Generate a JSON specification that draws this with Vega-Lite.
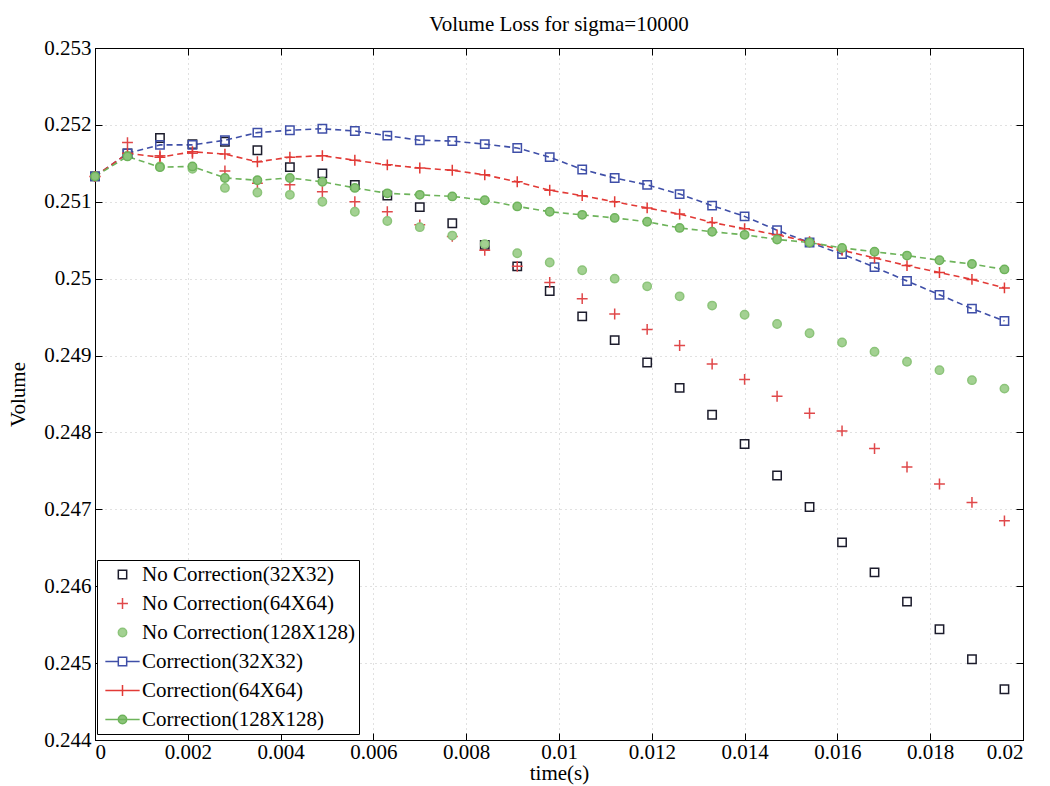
{
"$schema": "https://vega.github.io/schema/vega-lite/v6.json",
"width": 928,
"height": 692,
"autosize": {"type": "none"},
"padding": {"left": 95, "top": 48, "right": 27, "bottom": 46},
"background": "white",
"title": {"text": "Volume Loss for sigma=10000", "font": "Liberation Serif", "fontSize": 21, "fontWeight": "normal", "color": "black", "offset": 2},
"config": {
  "view": {"stroke": "black", "strokeWidth": 1},
  "axis": {"labelFont": "Liberation Serif", "labelFontSize": 21, "labelColor": "black", "titleFont": "Liberation Serif", "titleFontSize": 21, "titleFontWeight": "normal", "titleColor": "black", "domainColor": "black", "tickColor": "black", "tickWidth": 1}
},
"data": {"values": [
{"s":"No Correction(32X32)","t":0,"v":0.25133},{"s":"No Correction(32X32)","t":0.0007,"v":0.25163},{"s":"No Correction(32X32)","t":0.0014,"v":0.25183},{"s":"No Correction(32X32)","t":0.0021,"v":0.25175},{"s":"No Correction(32X32)","t":0.0028,"v":0.25178},{"s":"No Correction(32X32)","t":0.0035,"v":0.25167},{"s":"No Correction(32X32)","t":0.0042,"v":0.25145},{"s":"No Correction(32X32)","t":0.0049,"v":0.25137},{"s":"No Correction(32X32)","t":0.0056,"v":0.25122},{"s":"No Correction(32X32)","t":0.0063,"v":0.25108},{"s":"No Correction(32X32)","t":0.007,"v":0.25093},{"s":"No Correction(32X32)","t":0.0077,"v":0.25072},{"s":"No Correction(32X32)","t":0.0084,"v":0.25044},{"s":"No Correction(32X32)","t":0.0091,"v":0.25016},{"s":"No Correction(32X32)","t":0.0098,"v":0.24984},{"s":"No Correction(32X32)","t":0.0105,"v":0.24951},{"s":"No Correction(32X32)","t":0.0112,"v":0.2492},{"s":"No Correction(32X32)","t":0.0119,"v":0.24891},{"s":"No Correction(32X32)","t":0.0126,"v":0.24858},{"s":"No Correction(32X32)","t":0.0133,"v":0.24823},{"s":"No Correction(32X32)","t":0.014,"v":0.24785},{"s":"No Correction(32X32)","t":0.0147,"v":0.24744},{"s":"No Correction(32X32)","t":0.0154,"v":0.24703},{"s":"No Correction(32X32)","t":0.0161,"v":0.24657},{"s":"No Correction(32X32)","t":0.0168,"v":0.24618},{"s":"No Correction(32X32)","t":0.0175,"v":0.2458},{"s":"No Correction(32X32)","t":0.0182,"v":0.24544},{"s":"No Correction(32X32)","t":0.0189,"v":0.24505},{"s":"No Correction(32X32)","t":0.0196,"v":0.24466},
{"s":"No Correction(64X64)","t":0,"v":0.25133},{"s":"No Correction(64X64)","t":0.0007,"v":0.25177},{"s":"No Correction(64X64)","t":0.0014,"v":0.2516},{"s":"No Correction(64X64)","t":0.0021,"v":0.25163},{"s":"No Correction(64X64)","t":0.0028,"v":0.2514},{"s":"No Correction(64X64)","t":0.0035,"v":0.25124},{"s":"No Correction(64X64)","t":0.0042,"v":0.25122},{"s":"No Correction(64X64)","t":0.0049,"v":0.25113},{"s":"No Correction(64X64)","t":0.0056,"v":0.251},{"s":"No Correction(64X64)","t":0.0063,"v":0.25087},{"s":"No Correction(64X64)","t":0.007,"v":0.2507},{"s":"No Correction(64X64)","t":0.0077,"v":0.25055},{"s":"No Correction(64X64)","t":0.0084,"v":0.25037},{"s":"No Correction(64X64)","t":0.0091,"v":0.25016},{"s":"No Correction(64X64)","t":0.0098,"v":0.24995},{"s":"No Correction(64X64)","t":0.0105,"v":0.24974},{"s":"No Correction(64X64)","t":0.0112,"v":0.24954},{"s":"No Correction(64X64)","t":0.0119,"v":0.24934},{"s":"No Correction(64X64)","t":0.0126,"v":0.24913},{"s":"No Correction(64X64)","t":0.0133,"v":0.24889},{"s":"No Correction(64X64)","t":0.014,"v":0.24869},{"s":"No Correction(64X64)","t":0.0147,"v":0.24847},{"s":"No Correction(64X64)","t":0.0154,"v":0.24825},{"s":"No Correction(64X64)","t":0.0161,"v":0.24802},{"s":"No Correction(64X64)","t":0.0168,"v":0.24779},{"s":"No Correction(64X64)","t":0.0175,"v":0.24755},{"s":"No Correction(64X64)","t":0.0182,"v":0.24733},{"s":"No Correction(64X64)","t":0.0189,"v":0.24709},{"s":"No Correction(64X64)","t":0.0196,"v":0.24685},
{"s":"No Correction(128X128)","t":0,"v":0.25133},{"s":"No Correction(128X128)","t":0.0007,"v":0.2516},{"s":"No Correction(128X128)","t":0.0014,"v":0.25146},{"s":"No Correction(128X128)","t":0.0021,"v":0.25143},{"s":"No Correction(128X128)","t":0.0028,"v":0.25118},{"s":"No Correction(128X128)","t":0.0035,"v":0.25112},{"s":"No Correction(128X128)","t":0.0042,"v":0.25109},{"s":"No Correction(128X128)","t":0.0049,"v":0.251},{"s":"No Correction(128X128)","t":0.0056,"v":0.25087},{"s":"No Correction(128X128)","t":0.0063,"v":0.25075},{"s":"No Correction(128X128)","t":0.007,"v":0.25067},{"s":"No Correction(128X128)","t":0.0077,"v":0.25056},{"s":"No Correction(128X128)","t":0.0084,"v":0.25045},{"s":"No Correction(128X128)","t":0.0091,"v":0.25033},{"s":"No Correction(128X128)","t":0.0098,"v":0.25021},{"s":"No Correction(128X128)","t":0.0105,"v":0.25011},{"s":"No Correction(128X128)","t":0.0112,"v":0.25},{"s":"No Correction(128X128)","t":0.0119,"v":0.2499},{"s":"No Correction(128X128)","t":0.0126,"v":0.24977},{"s":"No Correction(128X128)","t":0.0133,"v":0.24965},{"s":"No Correction(128X128)","t":0.014,"v":0.24953},{"s":"No Correction(128X128)","t":0.0147,"v":0.24941},{"s":"No Correction(128X128)","t":0.0154,"v":0.24929},{"s":"No Correction(128X128)","t":0.0161,"v":0.24917},{"s":"No Correction(128X128)","t":0.0168,"v":0.24905},{"s":"No Correction(128X128)","t":0.0175,"v":0.24892},{"s":"No Correction(128X128)","t":0.0182,"v":0.24881},{"s":"No Correction(128X128)","t":0.0189,"v":0.24868},{"s":"No Correction(128X128)","t":0.0196,"v":0.24857},
{"s":"Correction(32X32)","t":0,"v":0.25133},{"s":"Correction(32X32)","t":0.0007,"v":0.25163},{"s":"Correction(32X32)","t":0.0014,"v":0.25174},{"s":"Correction(32X32)","t":0.0021,"v":0.25174},{"s":"Correction(32X32)","t":0.0028,"v":0.2518},{"s":"Correction(32X32)","t":0.0035,"v":0.2519},{"s":"Correction(32X32)","t":0.0042,"v":0.25193},{"s":"Correction(32X32)","t":0.0049,"v":0.25195},{"s":"Correction(32X32)","t":0.0056,"v":0.25192},{"s":"Correction(32X32)","t":0.0063,"v":0.25186},{"s":"Correction(32X32)","t":0.007,"v":0.2518},{"s":"Correction(32X32)","t":0.0077,"v":0.25179},{"s":"Correction(32X32)","t":0.0084,"v":0.25175},{"s":"Correction(32X32)","t":0.0091,"v":0.2517},{"s":"Correction(32X32)","t":0.0098,"v":0.25158},{"s":"Correction(32X32)","t":0.0105,"v":0.25142},{"s":"Correction(32X32)","t":0.0112,"v":0.25131},{"s":"Correction(32X32)","t":0.0119,"v":0.25122},{"s":"Correction(32X32)","t":0.0126,"v":0.2511},{"s":"Correction(32X32)","t":0.0133,"v":0.25095},{"s":"Correction(32X32)","t":0.014,"v":0.25081},{"s":"Correction(32X32)","t":0.0147,"v":0.25063},{"s":"Correction(32X32)","t":0.0154,"v":0.25047},{"s":"Correction(32X32)","t":0.0161,"v":0.25032},{"s":"Correction(32X32)","t":0.0168,"v":0.25015},{"s":"Correction(32X32)","t":0.0175,"v":0.24997},{"s":"Correction(32X32)","t":0.0182,"v":0.24979},{"s":"Correction(32X32)","t":0.0189,"v":0.24961},{"s":"Correction(32X32)","t":0.0196,"v":0.24945},
{"s":"Correction(64X64)","t":0,"v":0.25133},{"s":"Correction(64X64)","t":0.0007,"v":0.25163},{"s":"Correction(64X64)","t":0.0014,"v":0.25158},{"s":"Correction(64X64)","t":0.0021,"v":0.25165},{"s":"Correction(64X64)","t":0.0028,"v":0.25162},{"s":"Correction(64X64)","t":0.0035,"v":0.25152},{"s":"Correction(64X64)","t":0.0042,"v":0.25158},{"s":"Correction(64X64)","t":0.0049,"v":0.2516},{"s":"Correction(64X64)","t":0.0056,"v":0.25154},{"s":"Correction(64X64)","t":0.0063,"v":0.25148},{"s":"Correction(64X64)","t":0.007,"v":0.25144},{"s":"Correction(64X64)","t":0.0077,"v":0.25141},{"s":"Correction(64X64)","t":0.0084,"v":0.25135},{"s":"Correction(64X64)","t":0.0091,"v":0.25126},{"s":"Correction(64X64)","t":0.0098,"v":0.25115},{"s":"Correction(64X64)","t":0.0105,"v":0.25108},{"s":"Correction(64X64)","t":0.0112,"v":0.251},{"s":"Correction(64X64)","t":0.0119,"v":0.25092},{"s":"Correction(64X64)","t":0.0126,"v":0.25084},{"s":"Correction(64X64)","t":0.0133,"v":0.25073},{"s":"Correction(64X64)","t":0.014,"v":0.25065},{"s":"Correction(64X64)","t":0.0147,"v":0.25057},{"s":"Correction(64X64)","t":0.0154,"v":0.25048},{"s":"Correction(64X64)","t":0.0161,"v":0.25037},{"s":"Correction(64X64)","t":0.0168,"v":0.25027},{"s":"Correction(64X64)","t":0.0175,"v":0.25017},{"s":"Correction(64X64)","t":0.0182,"v":0.25008},{"s":"Correction(64X64)","t":0.0189,"v":0.24999},{"s":"Correction(64X64)","t":0.0196,"v":0.24988},
{"s":"Correction(128X128)","t":0,"v":0.25133},{"s":"Correction(128X128)","t":0.0007,"v":0.25159},{"s":"Correction(128X128)","t":0.0014,"v":0.25145},{"s":"Correction(128X128)","t":0.0021,"v":0.25146},{"s":"Correction(128X128)","t":0.0028,"v":0.25131},{"s":"Correction(128X128)","t":0.0035,"v":0.25128},{"s":"Correction(128X128)","t":0.0042,"v":0.25131},{"s":"Correction(128X128)","t":0.0049,"v":0.25126},{"s":"Correction(128X128)","t":0.0056,"v":0.25118},{"s":"Correction(128X128)","t":0.0063,"v":0.25111},{"s":"Correction(128X128)","t":0.007,"v":0.25109},{"s":"Correction(128X128)","t":0.0077,"v":0.25107},{"s":"Correction(128X128)","t":0.0084,"v":0.25102},{"s":"Correction(128X128)","t":0.0091,"v":0.25094},{"s":"Correction(128X128)","t":0.0098,"v":0.25087},{"s":"Correction(128X128)","t":0.0105,"v":0.25083},{"s":"Correction(128X128)","t":0.0112,"v":0.25079},{"s":"Correction(128X128)","t":0.0119,"v":0.25074},{"s":"Correction(128X128)","t":0.0126,"v":0.25066},{"s":"Correction(128X128)","t":0.0133,"v":0.25061},{"s":"Correction(128X128)","t":0.014,"v":0.25057},{"s":"Correction(128X128)","t":0.0147,"v":0.25051},{"s":"Correction(128X128)","t":0.0154,"v":0.25047},{"s":"Correction(128X128)","t":0.0161,"v":0.2504},{"s":"Correction(128X128)","t":0.0168,"v":0.25035},{"s":"Correction(128X128)","t":0.0175,"v":0.2503},{"s":"Correction(128X128)","t":0.0182,"v":0.25024},{"s":"Correction(128X128)","t":0.0189,"v":0.25019},{"s":"Correction(128X128)","t":0.0196,"v":0.25012}
]},
"layer": [
  {
    "transform": [{"filter": {"field": "s", "oneOf": ["Correction(32X32)", "Correction(64X64)", "Correction(128X128)"]}}],
    "mark": {"type": "line", "strokeDash": [6, 4], "strokeWidth": 1.6},
    "encoding": {
      "x": {"field": "t", "type": "quantitative", "scale": {"domain": [0, 0.02], "nice": false, "zero": false},
        "axis": {"orient": "bottom", "values": [0, 0.002, 0.004, 0.006, 0.008, 0.01, 0.012, 0.014, 0.016, 0.018, 0.02], "format": "~g", "title": "time(s)", "tickSize": -7, "labelPadding": 8, "titlePadding": 0, "grid": true, "gridDash": [1, 4], "gridColor": "#777777", "gridOpacity": 0.45}},
      "y": {"field": "v", "type": "quantitative", "scale": {"domain": [0.244, 0.253], "nice": false, "zero": false},
        "axis": {"orient": "left", "values": [0.244, 0.245, 0.246, 0.247, 0.248, 0.249, 0.25, 0.251, 0.252, 0.253], "format": "~g", "title": "Volume", "tickSize": -7, "labelPadding": 11, "titlePadding": 15, "grid": true, "gridDash": [1, 4], "gridColor": "#777777", "gridOpacity": 0.45}},
      "stroke": {"field": "s", "type": "nominal",
        "scale": {"domain": ["Correction(32X32)", "Correction(64X64)", "Correction(128X128)"],
                  "range": ["#3f4fa8", "#e23a36", "#6db35a"]},
        "legend": null}
    }
  },
  {
    "mark": {"type": "point", "filled": false, "size": 70, "strokeWidth": 1.5, "opacity": 1},
    "encoding": {
      "x": {"field": "t", "type": "quantitative", "scale": {"domain": [0, 0.02], "nice": false, "zero": false},
        "axis": {"orient": "top", "values": [0, 0.002, 0.004, 0.006, 0.008, 0.01, 0.012, 0.014, 0.016, 0.018, 0.02], "labels": false, "title": null, "tickSize": -7, "grid": false}},
      "y": {"field": "v", "type": "quantitative", "scale": {"domain": [0.244, 0.253], "nice": false, "zero": false},
        "axis": {"orient": "right", "values": [0.244, 0.245, 0.246, 0.247, 0.248, 0.249, 0.25, 0.251, 0.252, 0.253], "labels": false, "title": null, "tickSize": -7, "grid": false}},
      "color": {"field": "s", "type": "nominal", "legend": null,
        "scale": {"domain": ["No Correction(32X32)", "No Correction(64X64)", "No Correction(128X128)", "Correction(32X32)", "Correction(64X64)", "Correction(128X128)"],
                  "range": ["#1c1c2c", "#e0484a", "#8cc47a", "#3f4fa8", "#e23a36", "#6db35a"]}},
      "shape": {"field": "s", "type": "nominal", "legend": null,
        "scale": {"domain": ["No Correction(32X32)", "No Correction(64X64)", "No Correction(128X128)", "Correction(32X32)", "Correction(64X64)", "Correction(128X128)"],
                  "range": ["square", "M-1.3,0H1.3M0,-1.3V1.3", "circle", "square", "M-1.3,0H1.3M0,-1.3V1.3", "circle"]}},
      "fill": {"field": "s", "type": "nominal", "legend": null,
        "scale": {"domain": ["No Correction(32X32)", "No Correction(64X64)", "No Correction(128X128)", "Correction(32X32)", "Correction(64X64)", "Correction(128X128)"],
                  "range": ["transparent", "transparent", "#a3d192", "transparent", "transparent", "#8cc47a"]}}
    }
  },
  {
    "transform": [{"filter": {"field": "t", "equal": 0}}],
    "mark": {"type": "point", "filled": false, "size": 70, "strokeWidth": 1.5, "opacity": 0},
    "encoding": {
      "x": {"field": "t", "type": "quantitative", "axis": null},
      "y": {"field": "v", "type": "quantitative", "axis": null},
      "color": {"field": "s", "type": "nominal",
        "scale": {"domain": ["No Correction(32X32)", "No Correction(64X64)", "No Correction(128X128)", "Correction(32X32)", "Correction(64X64)", "Correction(128X128)"],
                  "range": ["#1c1c2c", "#e0484a", "#8cc47a", "#3f4fa8", "#e23a36", "#6db35a"]},
        "legend": {"title": null, "orient": "none", "legendX": 2, "legendY": 512, "padding": 4, "rowPadding": 7, "symbolOffset": 11, "labelOffset": 9, "labelLimit": 400,
          "labelFont": "Liberation Serif", "labelFontSize": 21, "labelColor": "black", "strokeColor": "black", "fillColor": "white", "symbolStrokeWidth": 1.5, "symbolSize": 70, "symbolOpacity": 1}},
      "shape": {"field": "s", "type": "nominal",
        "scale": {"domain": ["No Correction(32X32)", "No Correction(64X64)", "No Correction(128X128)", "Correction(32X32)", "Correction(64X64)", "Correction(128X128)"],
                  "range": ["square", "M-1.3,0H1.3M0,-1.3V1.3", "circle", "M-4.1,0H-1M1,0H4.1M-1,-1H1V1H-1Z", "M-4.1,0H4.1M0,-1.3V1.3", "M-4.1,0H4.1M-1,0A1,1,0,1,1,1,0A1,1,0,1,1,-1,0Z"]}},
      "fill": {"field": "s", "type": "nominal",
        "scale": {"domain": ["No Correction(32X32)", "No Correction(64X64)", "No Correction(128X128)", "Correction(32X32)", "Correction(64X64)", "Correction(128X128)"],
                  "range": ["transparent", "transparent", "#a3d192", "transparent", "transparent", "#8cc47a"]}}
    }
  }
],
"resolve": {"axis": {"x": "independent", "y": "independent"}, "scale": {"color": "independent", "shape": "independent", "fill": "independent"}}
}
